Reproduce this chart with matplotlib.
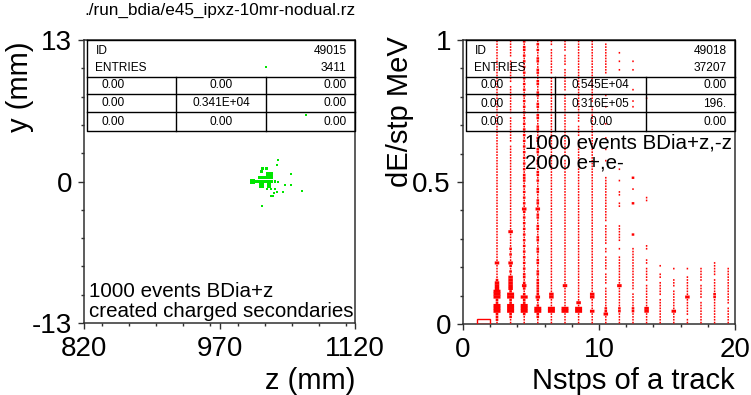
import matplotlib
matplotlib.use('Agg')
import matplotlib.pyplot as plt
from matplotlib.ticker import MultipleLocator

plt.rcParams['font.family'] = ['Liberation Sans', 'DejaVu Sans']

TITLE = './run_bdia/e45_ipxz-10mr-nodual.rz'

# ---- left: created charged secondaries, y (mm) vs z (mm) ----
green_z = [1006.5, 1008, 1009.5, 1011, 1012.5, 1014, 1015.5, 1017, 1018.5, 1020,
           1021.5, 1023, 1024.5, 1026, 1027.5,
           1024.5, 1026.5, 1024.5, 1026.5, 1014, 1018, 1021,
           1016.7, 1025, 1016.7, 1017.8, 1022.2,
           1034.8, 1033.3, 1048.7, 1031.5, 1035, 1042.5, 1048.8, 1022.2, 1026.6,
           1031.4, 1034, 1040, 1030.3, 1060.9, 1027, 1028.8, 1016.7, 1021, 1065.3]
green_y = [0, 0, 0, 0, 0, 0, 0, 0, 0, 0,
           0, 0, 0, 0, 0,
           0.7, 0.7, 0.4, 0.4, 0.34, 0.4, 0.4,
           -0.37, -0.37, 0.89, 1.22, 1.17,
           1.96, 1.5, 0.7, 0.0, -0.06, -0.34, -0.34, -0.67, -0.73,
           -0.73, -0.95, -0.98, -1.04, -0.89, -1.29, -1.29, -2.27, 10.5, 6.09]
green_lvl = [3, 2, 2, 2, 2, 2, 2, 2, 2, 2,
             2, 2, 2, 2, 2,
             3, 3, 3, 3, 2, 2, 2,
             3, 3, 2, 2, 2,
             1, 1, 1, 1, 1, 1, 1, 1, 1,
             1, 1, 1, 1, 1, 1, 1, 1, 1, 1]

left_id, left_entries = '49015', '3411'
left_cells = [['0.00', '0.00', '0.00'],
              ['0.00', '0.341E+04', '0.00'],
              ['0.00', '0.00', '0.00']]
left_note = ['1000 events BDia+z', 'created charged secondaries']

# ---- right: dE/stp vs Nstps, 20 x-bins (0..20) x 100 y-bins (0..1) ----
# rows from top (y-bin 99) down to y-bin 0, one char per x-bin
# '.' empty, '1'..'4' box size, 'R' full bin
red_rows = [
    "..11211111..........",
    "..111211111.........",
    "..1121.1111.........",
    "..112211111.........",
    "..11111.1111........",
    "..112111111.........",
    "..1.1211111.........",
    "..11221111111.......",
    "..111111111.........",
    "..11211.111.........",
    "..11121111111.......",
    "..112211111.........",
    "..1111.111..........",
    "..11211111..........",
    "..11121111..........",
    "..1.221111..........",
    "..11111111..........",
    "..11211111..1.......",
    "..11121.11..........",
    "..112211111.........",
    "..11111111...1......",
    "..11211111..1.......",
    "..1112111...........",
    "..112211111.1.......",
    "..11111111..........",
    "..11211111..........",
    "..1.121111..........",
    "..11221111..........",
    "..11111111..........",
    "..112111.11.........",
    "..11121111..........",
    "..11221111..........",
    "..11111111..........",
    "..11211111..........",
    "..111211.11.........",
    "..11221111..........",
    "..1.111111..........",
    "..11211111..........",
    "..111211111.........",
    "..11221111..........",
    "..11111111..........",
    "..11211.11..........",
    "..111211111.........",
    "..11221111..........",
    "..11111111..........",
    "..11211111.1........",
    "..11121111..........",
    "..11221111..........",
    "..112111111.2.......",
    "..1122111111........",
    "..111111111.........",
    "..112111111.........",
    "..111211111.1.......",
    "..1122111111........",
    "..1111111111........",
    "..112111111..1......",
    "..111211111..1......",
    "..11221111112.......",
    "..1111111111........",
    "..113311111.........",
    "..112111111.........",
    "..111211111.........",
    "..112211111.........",
    "..111111111.........",
    "..11211111..........",
    "..1112111111........",
    "..1122111111........",
    "..1311111111........",
    "..11211111112.......",
    "..1112111111........",
    "..1122111111........",
    "..111111111.........",
    "..11211111...1......",
    "..121211111111......",
    "..112211111.1.......",
    "..12111111..1.......",
    "..11211111111.......",
    "..111211111111......",
    "..332211111111....1.",
    "..12111111111.1...1.",
    "..112111111111.11111",
    "..12121111.111...111",
    "..1122111111111..111",
    "..1321111111111.11.1",
    "..231211111111.11111",
    "..33221111111.111.11",
    "..33321311.311111111",
    "..3322111111111.1111",
    "..4212111111.1111111",
    "..442231131111111121",
    "..444331131111.13121",
    "..222211111111111.11",
    "..222111311111111111",
    "..44421111111111111.",
    "..444444412223111111",
    "..444444432223131111",
    "..222211113111111111",
    "..22121111111111.111",
    "..211111111111111111",
    ".R111111111111111111",
]

right_id, right_entries = '49018', '37207'
right_cells = [['0.00', '0.545E+04', '0.00'],
               ['0.00', '0.316E+05', '196.'],
               ['0.00', '0.00', '0.00']]
right_note = ['1000 events BDia+z,-z', '2000 e+,e-']

GREEN = '#00e600'
RED = '#ff0000'
FRAME = '#303030'

fig = plt.figure(figsize=(7.51, 3.95), dpi=100)
ax1 = fig.add_axes([84 / 751, 1 - 323 / 395, 271 / 751, 283 / 395])
ax2 = fig.add_axes([463 / 751, 1 - 324 / 395, 272 / 751, 284 / 395])

fig.text(84 / 751, 1 - 15 / 395, TITLE, fontsize=12.3, va='baseline', ha='left')

# left scatter boxes
green_size = {1: 2.2, 2: 4.8, 3: 10.5}
ax1.scatter(green_z, green_y, s=[green_size[v] for v in green_lvl], marker='s',
            c=GREEN, linewidths=0, zorder=3)
ax1.set_xlim(820, 1120)
ax1.set_ylim(-13, 13)

# right box histogram
nx, ny = 20, len(red_rows)
px_x = 272 / nx          # pixels per x unit
px_y = 284 / 1.0         # pixels per y unit
box_px = {'1': (1.5, 1.7), '2': (2.6, 2.4), '3': (4.5, 3.0), '4': (7.0, 3.2)}
bx, by, bw, bh = [], [], [], []
for i, row in enumerate(red_rows):
    k = ny - 1 - i
    for n, c in enumerate(row.ljust(nx, '.')[:nx]):
        yc = (k + 0.5) / ny
        if c in box_px:
            w, h = box_px[c]
            bx.append(n + 0.5)
            by.append(yc - h / px_y / 2)
            bw.append(w / px_x)
            bh.append(h / px_y)
        elif c == 'R':
            ax2.bar(n + 0.5, 0.0175, width=1.0, bottom=0, fill=False,
                    edgecolor=RED, linewidth=1.0, zorder=3)
boxes = ax2.bar(bx, bh, width=bw, bottom=by, color=RED, linewidth=0, zorder=3)
for p in boxes:
    p.set_snap(False)
ax2.set_xlim(0, 20)
ax2.set_ylim(0, 1)


def style_axes(ax, xmaj, xlab, xmin, ymaj, ylab, ymin):
    ax.set_xticks(xmaj)
    ax.set_xticklabels(xlab)
    ax.set_yticks(ymaj)
    ax.set_yticklabels(ylab)
    ax.xaxis.set_minor_locator(MultipleLocator(xmin))
    ax.yaxis.set_minor_locator(MultipleLocator(ymin))
    ax.tick_params(which='both', direction='out', colors=FRAME, labelcolor='black',
                   top=False, right=False, width=1.0)
    ax.tick_params(which='major', length=4.2, labelsize=20)
    ax.tick_params(axis='x', which='major', pad=5.5)
    ax.tick_params(axis='y', which='major', pad=4.5)
    ax.tick_params(which='minor', length=2.0)
    for sp in ax.spines.values():
        sp.set_color(FRAME)
        sp.set_linewidth(1.1)


def stats_box(ax, hid, entries, cells):
    x0, x1 = 0.011, 1.0
    c1, c2 = 0.34, 0.672
    ytop, yhead, yr1, yr2, ybot = 1.0, 0.870, 0.809, 0.747, 0.680
    kw = dict(transform=ax.transAxes, color='black', linewidth=1.0, clip_on=False, zorder=4)
    ax.plot([x0, x1, x1, x0, x0], [ytop, ytop, ybot, ybot, ytop], **kw)
    for yy in (yhead, yr1, yr2):
        ax.plot([x0, x1], [yy, yy], **kw)
    ax.plot([c1, c1], [yhead, ybot], **kw)
    ax.plot([c2, c2], [yhead, ybot], **kw)
    tkw = dict(transform=ax.transAxes, fontsize=8.6, va='center', zorder=5)
    ax.text(0.042, 0.962, 'ID', ha='left', **tkw)
    ax.text(0.969, 0.962, hid, ha='right', **tkw)
    ax.text(0.042, 0.900, 'ENTRIES', ha='left', **tkw)
    ax.text(0.969, 0.900, entries, ha='right', **tkw)
    for row, yy in zip(cells, (0.840, 0.776, 0.712)):
        ax.text(0.066, yy, row[0], ha='left', **tkw)
        ax.text((c1 + c2) / 2, yy, row[1], ha='center', **tkw)
        ax.text(0.969, yy, row[2], ha='right', **tkw)


style_axes(ax1, [820, 970, 1120], ['820', '970', '1120'], 30,
           [-13, 0, 13], ['-13', '0', '13'], 2.6)
style_axes(ax2, [0, 10, 20], ['0', '10', '20'], 2,
           [0, 0.5, 1], ['0', '0.5', '1'], 0.1)

stats_box(ax1, left_id, left_entries, left_cells)
stats_box(ax2, right_id, right_entries, right_cells)

ax1.set_xlabel('z (mm)', fontsize=21, loc='right')
ax1.set_ylabel('y (mm)', fontsize=21, loc='top')
ax1.xaxis.set_label_coords(1.0, -0.155)
ax1.yaxis.set_label_coords(-0.185, 0.993)
ax2.set_xlabel('Nstps of a track', fontsize=21, loc='right')
ax2.set_ylabel('dE/stp MeV', fontsize=21, loc='top')
ax2.xaxis.set_label_coords(1.0, -0.150)
ax2.yaxis.set_label_coords(-0.18, 1.014)

ax1.text(0.018, 0.0905, left_note[0], transform=ax1.transAxes, fontsize=14.75,
         va='baseline', zorder=5)
ax1.text(0.018, 0.022, left_note[1], transform=ax1.transAxes, fontsize=14.75,
         va='baseline', zorder=5)
ax2.text(0.228, 0.618, right_note[0], transform=ax2.transAxes, fontsize=14.75,
         va='baseline', zorder=5)
ax2.text(0.228, 0.548, right_note[1], transform=ax2.transAxes, fontsize=14.75,
         va='baseline', zorder=5)

fig.savefig('out.png', dpi=100)
